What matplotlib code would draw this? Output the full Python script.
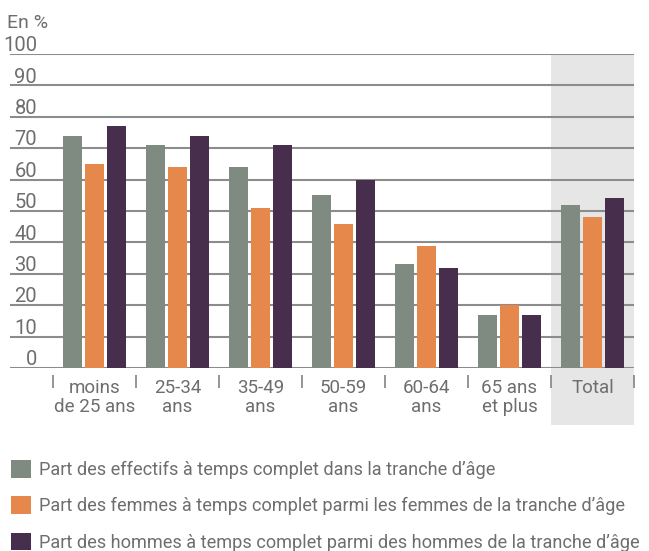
import matplotlib.pyplot as plt
from matplotlib import font_manager
import numpy as np

names = {f.name for f in font_manager.fontManager.ttflist}
font = 'Liberation Sans Narrow' if 'Liberation Sans Narrow' in names else 'Roboto'
plt.rcParams['font.family'] = [font, 'DejaVu Sans']

categories = ['moins\nde 25 ans', '25-34\nans', '35-49\nans', '50-59\nans', '60-64\nans', '65 ans\net plus', 'Total']
effectifs = [74, 71, 64, 55, 33, 17, 52]
femmes = [65, 64, 51, 46, 39, 20, 48]
hommes = [77, 74, 71, 60, 32, 17, 54]
labels = ["Part des effectifs à temps complet dans la tranche d’âge",
          "Part des femmes à temps complet parmi les femmes de la tranche d’âge",
          "Part des hommes à temps complet parmi des hommes de la tranche d’âge"]
colors = ['#7f8b80', '#e6874b', '#472e4d']
yticks = [0, 10, 20, 30, 40, 50, 60, 70, 80, 90, 100]

txt = '#6d6e70'
fig = plt.figure(figsize=(6.49, 5.51), dpi=100)
ax = fig.add_axes([10/649, 183/551, 624/649, 314/551])

x = np.arange(len(categories))
w = 0.229
step = 0.265
bars = []
for k, (vals, c) in enumerate(zip([effectifs, femmes, hommes], colors)):
    b = ax.bar(x + (k - 1) * step, vals, width=w, color=c, label=labels[k], zorder=3)
    bars.append(b)

# Total shading
ax.bar(6, 118, width=1.0, bottom=-18, color='#e6e6e6', zorder=0, clip_on=False)

ax.set_xlim(-1.018, 6.5)
ax.set_ylim(0, 100)
for y in yticks:
    ax.axhline(y, color='#8c8c8c', lw=1.5, zorder=1)
    ax.text(27/624, y + 0.9, str(y), transform=ax.get_yaxis_transform(),
            ha='right', va='baseline', fontsize=14.5, color=txt)

ax.vlines(np.arange(-0.5, 7, 1), -2.2, -6.4, color='#8c8c8c', lw=1.3, clip_on=False)
for xi, cat in zip(x, categories):
    ax.text(xi, -3.6, cat, ha='center', va='top', fontsize=13.5, color=txt,
            linespacing=1.05)

ax.axis('off')

fig.text(7/649, 1 - 14/551, 'En %', ha='left', va='top', fontsize=14, color=txt)

fig.legend(handles=bars, labels=labels, loc='upper left', bbox_to_anchor=(4/649, 1 - 453/551),
           frameon=False, fontsize=13.1, handlelength=1.1, handleheight=1.1,
           handletextpad=0.4, labelspacing=0.95, labelcolor=txt, borderaxespad=0)

fig.savefig('out.png', dpi=100)
